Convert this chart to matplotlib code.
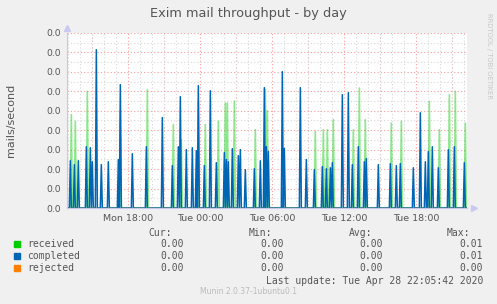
import numpy as np
import matplotlib
matplotlib.use("Agg")
import matplotlib.pyplot as plt
from matplotlib.ticker import MultipleLocator, FormatStrFormatter

# spike times (Mon/Tue HH:MM) and rates in mails/second
completed_times = ["Mon 13:10", "Mon 13:30", "Mon 13:50", "Mon 14:30", "Mon 14:50", "Mon 15:00",
                   "Mon 15:20", "Mon 15:45", "Mon 16:20", "Mon 17:10", "Mon 17:20", "Mon 18:20",
                   "Mon 19:30", "Mon 20:50", "Mon 21:40", "Mon 22:10", "Mon 22:20", "Mon 22:50",
                   "Mon 23:20", "Mon 23:40", "Mon 23:50", "Tue 00:20", "Tue 00:50", "Tue 01:20",
                   "Tue 02:00", "Tue 02:10", "Tue 02:20", "Tue 02:40", "Tue 03:10", "Tue 03:20",
                   "Tue 03:45", "Tue 04:30", "Tue 05:00", "Tue 05:20", "Tue 05:30", "Tue 05:40",
                   "Tue 06:50", "Tue 07:00", "Tue 08:20", "Tue 08:50", "Tue 09:30", "Tue 10:10",
                   "Tue 10:30", "Tue 10:50", "Tue 11:00", "Tue 11:50", "Tue 12:20", "Tue 12:40",
                   "Tue 13:10", "Tue 13:40", "Tue 13:50", "Tue 14:50", "Tue 15:50", "Tue 16:20",
                   "Tue 16:40", "Tue 17:45", "Tue 18:20", "Tue 18:45", "Tue 19:00", "Tue 19:20",
                   "Tue 19:50", "Tue 20:40", "Tue 21:10", "Tue 22:00"]
completed_vals = [0.00243, 0.00223, 0.00243, 0.00315, 0.00310, 0.00238,
                  0.00814, 0.00223, 0.00238, 0.00249, 0.00634, 0.00279,
                  0.00315, 0.00465, 0.00218, 0.00315, 0.00573, 0.00300,
                  0.00310, 0.00295, 0.00629, 0.00218, 0.00603, 0.00233,
                  0.00285, 0.00249, 0.00238, 0.00305, 0.00269, 0.00300,
                  0.00197, 0.00202, 0.00243, 0.00619, 0.00315, 0.00290,
                  0.00701, 0.00307, 0.00619, 0.00249, 0.00197, 0.00213,
                  0.00202, 0.00207, 0.00233, 0.00583, 0.00593, 0.00223,
                  0.00315, 0.00238, 0.00254, 0.00223, 0.00228, 0.00218,
                  0.00228, 0.00207, 0.00490, 0.00238, 0.00290, 0.00315,
                  0.00207, 0.00300, 0.00315, 0.00233]

received_times = ["Mon 13:15", "Mon 13:35", "Mon 14:35", "Mon 17:20", "Mon 19:35", "Mon 21:45",
                  "Mon 22:25", "Mon 23:50", "Tue 00:25", "Tue 01:30", "Tue 02:05", "Tue 02:15",
                  "Tue 02:50", "Tue 04:35", "Tue 05:25", "Tue 05:35", "Tue 09:35", "Tue 10:15",
                  "Tue 10:35", "Tue 11:05", "Tue 12:45", "Tue 13:15", "Tue 13:45", "Tue 15:55",
                  "Tue 16:45", "Tue 19:05", "Tue 19:55", "Tue 20:45", "Tue 21:15", "Tue 22:05"]
received_vals = [0.00480, 0.00446, 0.00600, 0.00500, 0.00609, 0.00429,
                 0.00350, 0.00550, 0.00429, 0.00446, 0.00540, 0.00540,
                 0.00549, 0.00403, 0.00609, 0.00500, 0.00394, 0.00403,
                 0.00403, 0.00454, 0.00403, 0.00617, 0.00454, 0.00437,
                 0.00446, 0.00549, 0.00403, 0.00583, 0.00600, 0.00437]

tick_labels = ["Mon 18:00", "Tue 00:00", "Tue 06:00", "Tue 12:00", "Tue 18:00"]

legend_names = ["received", "completed", "rejected"]
legend_colors = ["#00cc00", "#0066b3", "#ff8000"]
cur_vals = ["0.00", "0.00", "0.00"]
min_vals = ["0.00", "0.00", "0.00"]
avg_vals = ["0.00", "0.00", "0.00"]
max_vals = ["0.01", "0.01", "0.00"]


def to_hours(s):
    day, hm = s.split()
    h, m = hm.split(":")
    return (24 if day == "Tue" else 0) + int(h) + int(m) / 60.0


# 5 minute sample grid, Mon 12:55 .. Tue 22:10
t = np.arange(12 * 60 + 55, 46 * 60 + 15, 5) / 60.0


def series(times, vals):
    y = np.zeros_like(t)
    for s, v in zip(times, vals):
        y[np.argmin(np.abs(t - to_hours(s)))] = v
    return y


received = series(received_times, received_vals)
completed = series(completed_times, completed_vals)
rejected = np.zeros_like(t)

fig = plt.figure(figsize=(4.97, 3.04), dpi=100, facecolor="#f0f0f0")
ax = fig.add_axes([67 / 497, 1 - 208 / 304, 400 / 497, 175 / 304])
ax.set_facecolor("white")

ax.plot(t, received, color="#00cc00", lw=1.2, alpha=0.45)
ax.plot(t, completed, color="#0066b3", lw=1.1)
ax.plot(t, rejected, color="#ff8000", lw=1.0, alpha=0.55)

ax.set_xlim(12 + 53.3 / 60, 46 + 13.3 / 60)
ax.set_ylim(0, 0.009)

ax.xaxis.set_minor_locator(MultipleLocator(1))
ax.yaxis.set_major_locator(MultipleLocator(0.001))
ax.yaxis.set_minor_locator(MultipleLocator(0.0005))
ax.yaxis.set_major_formatter(FormatStrFormatter("%.1f"))
ax.set_xticks([18, 24, 30, 36, 42], tick_labels)

# red major grid every 3h, grey minor grid
for xv in np.arange(15, 46, 3):
    ax.axvline(xv, color="#ff9c9c", lw=0.8, ls=(0, (1, 2)), zorder=0)
ax.grid(which="minor", color="#d8d8d8", lw=0.8, ls=(0, (1, 2)), zorder=0)
ax.grid(which="major", axis="y", color="#ff9c9c", lw=0.8, ls=(0, (1, 2)), zorder=0)
ax.grid(which="major", axis="x", visible=False)
ax.set_axisbelow(True)

ax.tick_params(which="both", length=0, labelsize=6.6, colors="#555555", pad=4)
ax.tick_params(axis="x", labelsize=6.8, pad=4)
for s in ["top", "right"]:
    ax.spines[s].set_visible(False)
ax.spines["left"].set_color("#c8c8e8")
ax.spines["bottom"].set_color("#c8c8e8")
ax.plot([0], [1.03], marker="^", color="#c8c8f0", ms=4, transform=ax.transAxes, clip_on=False)
ax.plot([1.018], [0], marker=">", color="#c8c8f0", ms=4, transform=ax.transAxes, clip_on=False)

fig.text(11 / 497, 1 - 120 / 304, "mails/second", rotation=90, ha="center", va="center",
         fontsize=8, color="#555555")

fig.text(248 / 497, 1 - 13 / 304, "Exim mail throughput - by day", ha="center", va="center",
         fontsize=9.3, color="#555555")
fig.text(489 / 497, 1 - 56 / 304, "RRDTOOL / TOBI OETIKER", rotation=270, ha="center", va="center",
         fontsize=4.9, color="#c8c8c8")

# legend block
mono = "DejaVu Sans Mono"
fs = 7
headers = [("Cur:", 172), ("Min:", 272), ("Avg:", 372), ("Max:", 470)]
for txt, xr in headers:
    fig.text(xr / 497, 1 - 233 / 304, txt, ha="right", va="center", family=mono, fontsize=fs, color="#555555")
rows_y = [244, 256, 268]
for i, name in enumerate(legend_names):
    yy = 1 - rows_y[i] / 304
    fig.patches.append(plt.Rectangle((14 / 497, yy - 3 / 304), 6 / 497, 6 / 304, color=legend_colors[i],
                                     transform=fig.transFigure, figure=fig))
    fig.text(27 / 497, yy, name, ha="left", va="center", family=mono, fontsize=fs, color="#555555")
    for vals, xr in zip([cur_vals, min_vals, avg_vals, max_vals], [184, 284, 383, 483]):
        fig.text(xr / 497, yy, vals[i], ha="right", va="center", family=mono, fontsize=fs, color="#555555")
fig.text(483 / 497, 1 - 281 / 304, "Last update: Tue Apr 28 22:05:42 2020", ha="right", va="center",
         family=mono, fontsize=fs, color="#555555")
fig.text(248 / 497, 1 - 292 / 304, "Munin 2.0.37-1ubuntu0.1", ha="center", va="center",
         fontsize=5.5, color="#bbbbbb")

fig.savefig("out.png", dpi=100, facecolor=fig.get_facecolor())
